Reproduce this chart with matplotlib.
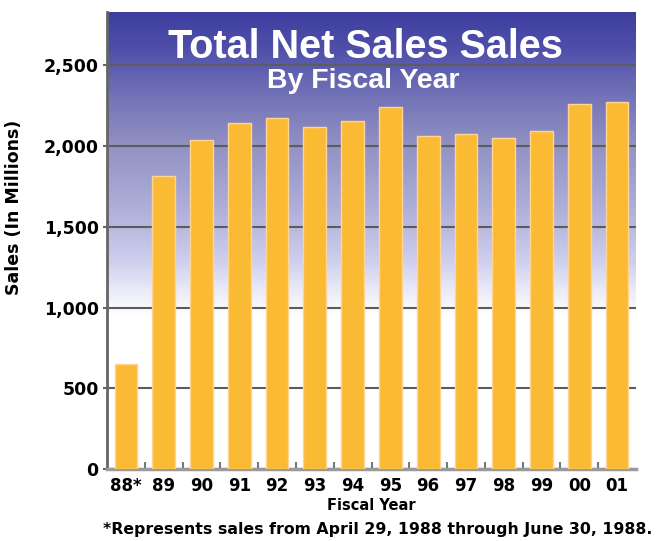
import numpy as np
import matplotlib
matplotlib.use('Agg')
import matplotlib.pyplot as plt
from matplotlib.colors import LinearSegmentedColormap
from matplotlib.ticker import FuncFormatter, MultipleLocator

years = ['88*', '89', '90', '91', '92', '93', '94', '95', '96', '97', '98', '99', '00', '01']
sales = [652, 1815, 2037, 2140, 2173, 2118, 2154, 2241, 2062, 2074, 2050, 2093, 2258, 2272]

title = 'Total Net Sales Sales'
subtitle = 'By Fiscal Year'
footnote = '*Represents sales from April 29, 1988 through June 30, 1988.'

title_font = ['Liberation Sans Narrow', 'Liberation Sans', 'DejaVu Sans']

plt.rcParams['font.family'] = ['DejaVu Sans']
plt.rcParams['font.weight'] = 'bold'
plt.rcParams['axes.labelweight'] = 'bold'

YMAX = 2830
fig = plt.figure(figsize=(6.68, 5.41), dpi=100)
ax = fig.add_axes([107 / 668, 72 / 541, 529 / 668, 457 / 541])

# vertical background fade, dark blue at the top to white below ~1000
stops = [(0.0, '#ffffff'), (950 / YMAX, '#ffffff'), (1100 / YMAX, '#ebebf9'),
         (1300 / YMAX, '#cdcdec'), (1600 / YMAX, '#b0b0da'), (2000 / YMAX, '#9292c4'),
         (2300 / YMAX, '#7474b8'), (2600 / YMAX, '#5050aa'), (1.0, '#3e3ea0')]
cmap = LinearSegmentedColormap.from_list('fade', stops)
grad = np.linspace(0, 1, 512).reshape(-1, 1)
ax.imshow(grad, cmap=cmap, origin='lower', aspect='auto',
          extent=(-0.5, len(years) - 0.5, 0, YMAX), zorder=0)

x = np.arange(len(years))
ax.bar(x, sales, width=0.6, color='#fbba34', edgecolor='#ffd596', linewidth=1.0, zorder=3)

ax.set_xlim(-0.5, len(years) - 0.5)
ax.set_ylim(0, YMAX)
ax.yaxis.set_major_locator(MultipleLocator(500))
ax.yaxis.set_major_formatter(FuncFormatter(lambda v, p: f'{int(v):,}'))
ax.grid(axis='y', color='#5c5c5c', linewidth=1.5, zorder=1)
ax.set_axisbelow(True)

ax.set_xticks(x)
ax.set_xticklabels(years)
ax.set_xticks(x[:-1] + 0.5, minor=True)
ax.tick_params(axis='x', which='major', length=0, pad=6, labelsize=12)
ax.tick_params(axis='x', which='minor', direction='in', length=5, width=1.5, color='#777777')
ax.tick_params(axis='y', which='major', direction='out', length=3, width=1.5,
               color='#666666', labelsize=12.5, pad=3)

for s in ['top', 'right']:
    ax.spines[s].set_visible(False)
ax.spines['left'].set_color('#666666')
ax.spines['left'].set_linewidth(2)
ax.spines['bottom'].set_color('#9a9a9a')
ax.spines['bottom'].set_linewidth(2.5)

ax.set_xlabel('Fiscal Year', fontsize=10.5, labelpad=2)
ax.set_ylabel('Sales (In Millions)', fontsize=12.5)
ax.yaxis.set_label_coords(-0.158, 0.573)

fig.text(365 / 668, 1 - 58 / 541, title, color='white', fontsize=28.5,
         fontweight='bold', ha='center', va='baseline', family=title_font)
fig.text(363 / 668, 1 - 88 / 541, subtitle, color='white', fontsize=20.5,
         fontweight='bold', ha='center', va='baseline', family=title_font)
fig.text(378 / 668, 1 - 534 / 541, footnote, fontsize=11.3, ha='center', va='baseline')

fig.savefig('out.png', dpi=100)
